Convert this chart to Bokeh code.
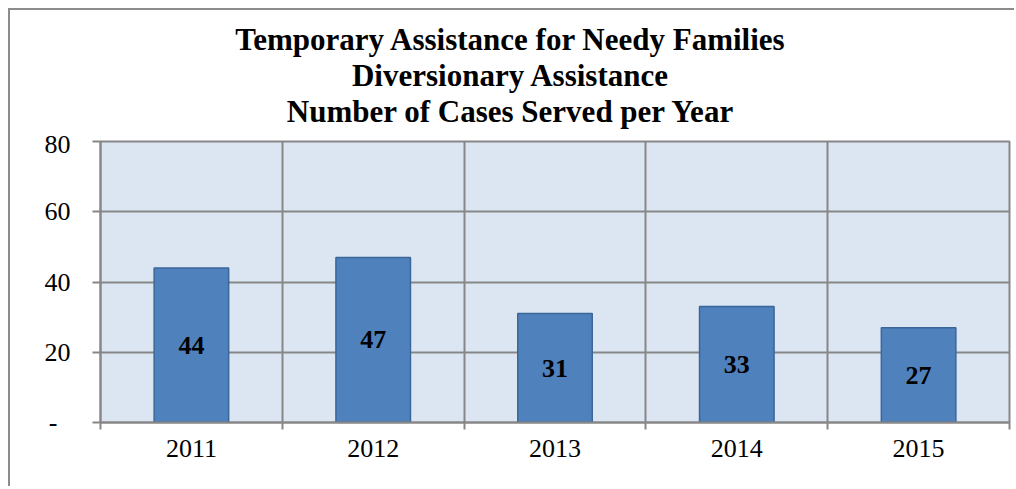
from bokeh.plotting import figure
from bokeh.models import Range1d, FixedTicker, ColumnDataSource, Div
from bokeh.layouts import column
from bokeh.embed import file_html
from bokeh.resources import INLINE

# ---- data ----
years = ["2011", "2012", "2013", "2014", "2015"]
cases = [44, 47, 31, 33, 27]
y_ticks = [0, 20, 40, 60, 80]
y_tick_labels = ["-\u00a0\u00a0", "20", "40", "60", "80"]
title_lines = ["Temporary Assistance for Needy Families",
               "Diversionary Assistance",
               "Number of Cases Served per Year"]

FONT = "Liberation Serif"
GRID = "#878787"
BORDER = "#8C8C8C"

xpos = [i + 0.5 for i in range(len(years))]
src = ColumnDataSource(dict(x=xpos, top=cases, mid=[c / 2 for c in cases],
                            lab=[str(c) for c in cases]))

# ---- title block ----
title_html = ('<div style="width:1000px;padding-top:12px;font-family:\'Liberation Serif\';'
              'font-weight:bold;font-size:31px;line-height:36px;'
              'text-align:center;color:black;white-space:nowrap;">'
              + "<br>".join(title_lines) + '</div>')
title = Div(text=title_html, width=1000, height=119, margin=(0, 0, 0, 0))

# ---- chart ----
p = figure(width=1004, height=357, output_backend="svg", toolbar_location=None,
           x_range=Range1d(0, len(years)), y_range=Range1d(0, 80),
           min_border_left=90, min_border_right=5, min_border_top=12,
           min_border_bottom=64, background_fill_color="#DCE6F2",
           border_fill_color="white", outline_line_color=GRID,
           outline_line_width=2, margin=(0, 0, 0, 0))

# bars
p.vbar(x="x", top="top", bottom=0, width=0.41, source=src,
       fill_color="#4F81BD", line_color="#3B6699", line_width=1.5)
p.text(x="x", y="mid", text="lab", source=src, text_align="center",
       text_baseline="middle", text_font={"value": FONT}, text_font_size="26px",
       text_font_style="bold", text_color="black")

# x axis: labels at centers, ticks at category boundaries
xa = p.xaxis[0]
xa.ticker = FixedTicker(ticks=xpos, minor_ticks=list(range(len(years) + 1)))
xa.major_label_overrides = {x: y for x, y in zip(xpos, years)}
xa.major_tick_line_color = None
xa.major_tick_in = 0
xa.major_tick_out = 7
xa.minor_tick_in = 0
xa.minor_tick_out = 7
xa.minor_tick_line_color = GRID
xa.minor_tick_line_width = 2
xa.axis_line_color = GRID
xa.axis_line_width = 2
xa.major_label_text_font = FONT
xa.major_label_text_font_size = "26px"
xa.major_label_text_color = "black"
xa.major_label_standoff = 10

p.xgrid.grid_line_color = None
p.xgrid.minor_grid_line_color = GRID
p.xgrid.minor_grid_line_width = 2

# y axis
ya = p.yaxis[0]
ya.ticker = FixedTicker(ticks=y_ticks)
ya.major_label_overrides = {t: l for t, l in zip(y_ticks, y_tick_labels)}
ya.minor_tick_line_color = None
ya.major_tick_in = 0
ya.major_tick_out = 8
ya.major_tick_line_color = GRID
ya.major_tick_line_width = 2
ya.axis_line_color = GRID
ya.axis_line_width = 2
ya.major_label_text_font = FONT
ya.major_label_text_font_size = "26px"
ya.major_label_text_color = "black"
ya.major_label_standoff = 22
p.ygrid.grid_line_color = GRID
p.ygrid.grid_line_width = 2

layout = column(title, p, spacing=0, margin=(8, 0, 0, 8),
                styles={"border-left": "2px solid " + BORDER,
                        "border-top": "2px solid " + BORDER,
                        "background-color": "white"})

open("out.html", "w").write(file_html(layout, INLINE))
